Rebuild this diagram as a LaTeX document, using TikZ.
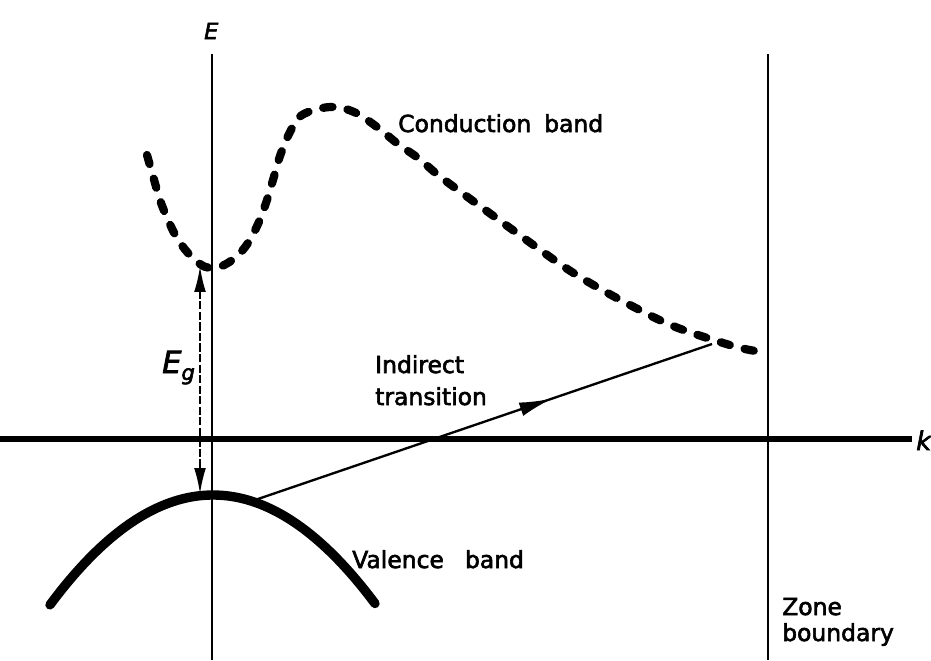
\documentclass[tikz,border=0pt]{standalone}
\usepackage{fontspec}
\setmainfont{DejaVu Sans}[FakeBold=2.5]
\usetikzlibrary{arrows.meta,decorations.markings}
\begin{document}
\begin{tikzpicture}[x=0.03cm,y=-0.03cm,
  axisline/.style={line width=2.3pt},
  kaxis/.style={line width=4.5pt},
  condband/.style={line width=7pt,line cap=round,dash pattern=on 8pt off 13pt},
  valband/.style={line width=8pt,line cap=round},
  gaparrow/.style={line width=1.8pt,dash pattern=on 7pt off 2pt,
     {Latex[length=22pt,width=10pt]}-{Latex[length=22pt,width=10pt]}},
  transline/.style={line width=2pt,postaction={decorate},
     decoration={markings,mark=at position 0.65 with {\arrow{Latex[length=28pt,width=12pt]}}}},
  lab/.style={inner sep=0pt,anchor=base west,font=\fontsize{20}{24}\selectfont}
]
\useasboundingbox (0,0) rectangle (931,660);

% coordinates
\coordinate (Etop) at (212,54);
\coordinate (Ebot) at (212,660);
\coordinate (Ztop) at (768,54);
\coordinate (Zbot) at (768,660);
\coordinate (kleft) at (0,439);
\coordinate (kright) at (912,439);
\coordinate (cbmin) at (200,266);
\coordinate (vbmax) at (200,494);
\coordinate (vtouch) at (255,500);
\coordinate (cbend) at (712,344);

% axes
\draw[axisline] (Etop) -- (Ebot);
\draw[axisline] (Ztop) -- (Zbot);
\draw[kaxis] (kleft) -- (kright);

% conduction band
\draw[condband] plot[smooth,tension=0.6] coordinates {
 (147,155) (153,176) (160,200) (168,220) (177,238) (188,253) (200,264) (210,268)
 (222,266) (236,257) (248,243) (258,224) (266,203) (273,180) (280,156) (290,132)
 (302,115) (330,107) (354,112) (377,127) (398,144) (418,158) (438,175) (458,190)
 (510,228) (560,264) (590,283) (630,305) (673,326) (720,342) (745,349) (768,353)};

% valence band
\draw[valband] plot[domain=50:375,samples=80,smooth] (\x,{495+(0.0643*(\x-213))^2});

% band gap arrow
\draw[gaparrow] (cbmin) -- (vbmax);

% indirect transition
\draw[transline] (vtouch) -- (cbend);

% labels
\node[lab,font=\fontsize{19}{22}\selectfont\itshape] (Elab) at (204,39) {E};
\node[lab,font=\fontsize{26}{30}\selectfont\itshape] (Eglab) at (162,373) {E\raisebox{-6pt}{\fontsize{18}{20}\selectfont g}};
\node[lab,font=\fontsize{22}{26}\selectfont\itshape] (klab) at (916,450) {k};
\node[lab] (cblab) at (398,132) {Conduction\hspace{0.55em}band};
\node[lab] (ind1) at (375,373) {Indirect};
\node[lab] (ind2) at (375,405) {transition};
\node[lab] (vblab) at (352,568) {Valence\hspace{0.9em}band};
\node[lab] (zone1) at (782,615) {Zone};
\node[lab] (zone2) at (782,641) {boundary};
\end{tikzpicture}
\end{document}
